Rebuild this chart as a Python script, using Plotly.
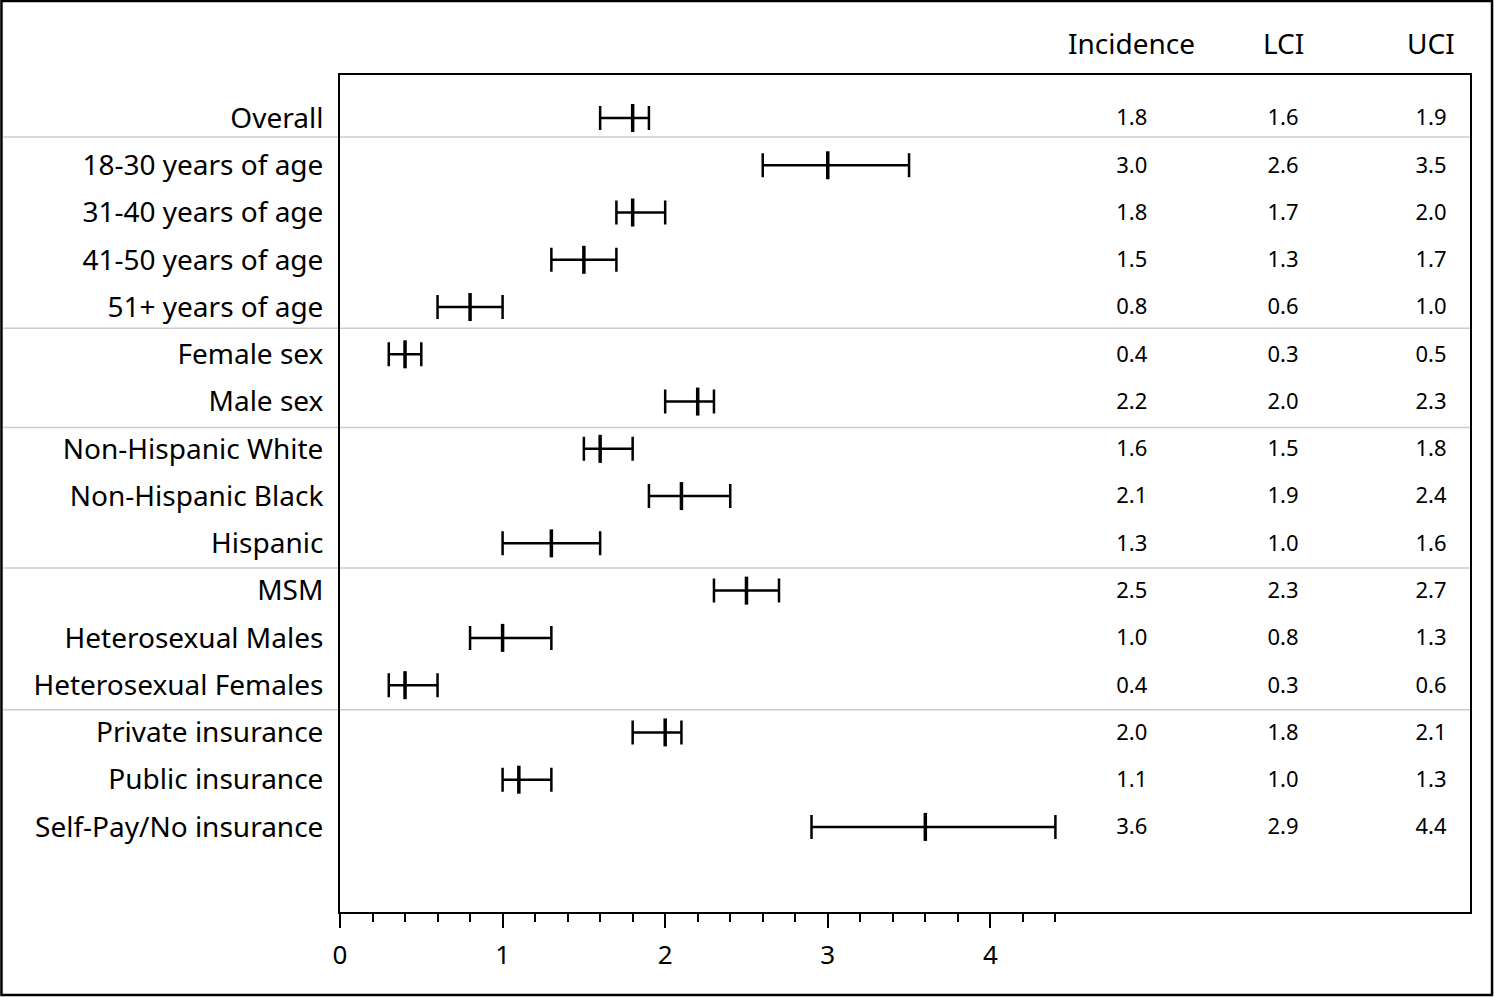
import plotly.graph_objects as go

labels = ["Overall", "18-30 years of age", "31-40 years of age", "41-50 years of age",
          "51+ years of age", "Female sex", "Male sex", "Non-Hispanic White",
          "Non-Hispanic Black", "Hispanic", "MSM", "Heterosexual Males",
          "Heterosexual Females", "Private insurance", "Public insurance",
          "Self-Pay/No insurance"]
incidence = [1.8, 3.0, 1.8, 1.5, 0.8, 0.4, 2.2, 1.6, 2.1, 1.3, 2.5, 1.0, 0.4, 2.0, 1.1, 3.6]
lci = [1.6, 2.6, 1.7, 1.3, 0.6, 0.3, 2.0, 1.5, 1.9, 1.0, 2.3, 0.8, 0.3, 1.8, 1.0, 2.9]
uci = [1.9, 3.5, 2.0, 1.7, 1.0, 0.5, 2.3, 1.8, 2.4, 1.6, 2.7, 1.3, 0.6, 2.1, 1.3, 4.4]
col_headers = ["Incidence", "LCI", "UCI"]
x_tickvals = [0, 1, 2, 3, 4]
x_ticktext = ["0", "1", "2", "3", "4"]
x_minor_tickvals = [0.2, 0.4, 0.6, 0.8, 1.2, 1.4, 1.6, 1.8, 2.2, 2.4, 2.6, 2.8,
                    3.2, 3.4, 3.6, 3.8, 4.2, 4.4]
group_breaks = [1.4, 5.45, 7.55, 10.52, 13.52]

rows = list(range(1, len(labels) + 1))
FONT = "Noto Sans"

fig = go.Figure()

fig.add_trace(go.Scatter(
    x=incidence, y=rows, mode="markers",
    marker=dict(symbol="line-ns", size=20, line=dict(width=3.5, color="black"), color="black"),
    error_x=dict(type="data", symmetric=False,
                 array=[u - m for u, m in zip(uci, incidence)],
                 arrayminus=[m - l for m, l in zip(incidence, lci)],
                 color="black", thickness=2.5, width=12),
    showlegend=False, hoverinfo="skip",
))

col_x = [4.87, 5.8, 6.71]
for cx, vals in zip(col_x, [incidence, lci, uci]):
    fig.add_trace(go.Scatter(
        x=[cx] * len(vals), y=[r + 0.04 for r in rows], mode="text",
        text=[f"{v:.1f}" for v in vals],
        textfont=dict(family=FONT, size=22, color="black"),
        textposition="middle center",
        showlegend=False, hoverinfo="skip", cliponaxis=False,
    ))

for cx, h in zip(col_x, col_headers):
    fig.add_annotation(x=cx, xref="x", y=1.038, yref="paper", text=h,
                       showarrow=False, xanchor="center", yanchor="middle",
                       font=dict(family=FONT, size=28, color="black"))

for yb in group_breaks:
    fig.add_shape(type="line", xref="paper", yref="y", x0=-0.298, x1=1.0,
                  y0=yb, y1=yb, line=dict(color="#cccccc", width=1.5), layer="below")

# outer border
fig.add_shape(type="rect", xref="paper", yref="paper", x0=-0.2996, x1=1.0195,
              y0=-0.0992, y1=1.0884, line=dict(color="black", width=2.5))

fig.update_layout(
    width=1494, height=997,
    margin=dict(l=340, r=24, t=75, b=85),
    paper_bgcolor="white", plot_bgcolor="white",
    font=dict(family=FONT, color="black"),
    xaxis=dict(range=[0, 6.95], tickmode="array", tickvals=x_tickvals, ticktext=x_ticktext,
               ticks="outside", ticklen=14, tickwidth=2, tickcolor="black",
               ticklabelstandoff=5,
               tickfont=dict(family=FONT, size=26, color="black"),
               showgrid=False, zeroline=False, showline=True, linecolor="black",
               linewidth=2, mirror=True,
               minor=dict(tickmode="array", tickvals=x_minor_tickvals, ticks="outside",
                          ticklen=8, tickwidth=2, tickcolor="black", showgrid=False)),
    yaxis=dict(range=[17.8, 0.09], tickmode="array", tickvals=rows, ticktext=labels,
               ticks="", ticklabelstandoff=9,
               tickfont=dict(family=FONT, size=28, color="black"),
               showgrid=False, zeroline=False, showline=True, linecolor="black",
               linewidth=2, mirror=True),
)

fig.write_html("out.html", post_script="document.body.style.margin='0';",
               config={"displayModeBar": False})
